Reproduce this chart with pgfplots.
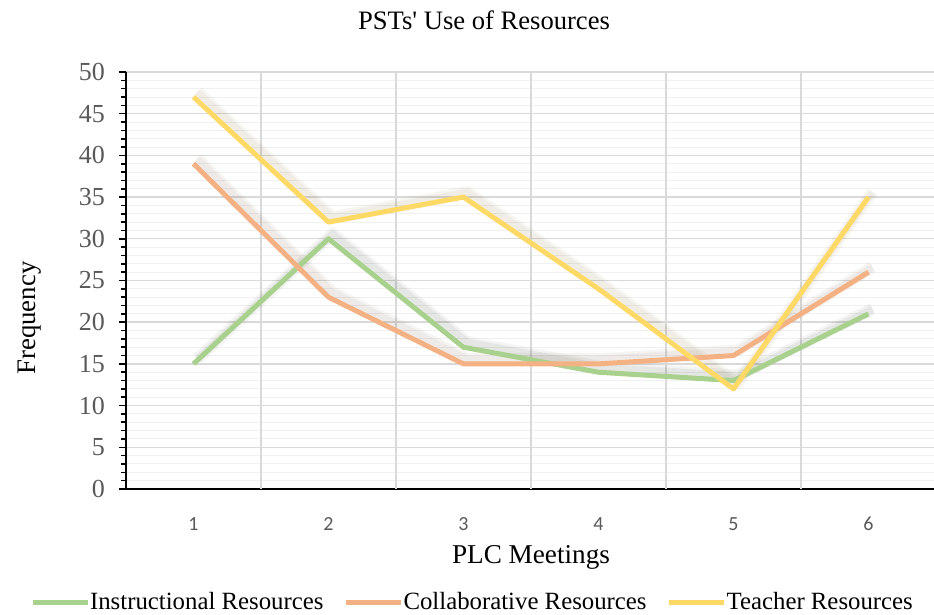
\documentclass[border=0pt]{standalone}
\usepackage{pgfplots}
\pgfplotsset{compat=1.18}
\usepackage{pgfplotstable}
\usepackage{fontspec}
\setmainfont{Liberation Serif}
\newfontfamily\carlito{Carlito}
\usetikzlibrary{calc}
\definecolor{cins}{HTML}{A9D18E}
\definecolor{ccol}{HTML}{F4B183}
\definecolor{ctea}{HTML}{FFD966}
\definecolor{tickgray}{HTML}{595959}
\pgfplotstableread{
x ins col tea
1 15 39 47
2 30 23 32
3 17 15 35
4 14 15 24
5 13 16 12
6 21 26 35
}\data
\begin{document}
\begin{tikzpicture}
\begin{axis}[
  name=ax,
  scale only axis,
  width=405pt, height=208.5pt,
  xmin=0.5, xmax=6.5,
  ymin=0, ymax=50,
  axis x line=bottom, axis y line=left,
  axis line style={-, black, line width=0.9pt},
  xtick={1,...,6},
  xtick style={draw=none},
  extra x ticks={1.5,2.5,3.5,4.5,5.5},
  extra x tick labels={},
  extra x tick style={xmajorgrids=true, tick style={draw=none}},
  ytick distance=5,
  minor y tick num=4,
  ymajorgrids, yminorgrids,
  major grid style={draw=black!15, line width=0.7pt},
  minor grid style={draw=black!6, line width=0.5pt},
  tick align=outside,
  ytick style={black, line width=0.8pt},
  major tick length=3.5pt,
  minor tick length=2.5pt,
  /pgf/number format/assume math mode=true,
  yticklabel style={font=\fontsize{13}{15}\selectfont, text=tickgray, xshift=-3.5pt},
  xticklabel style={font=\carlito\fontsize{10}{12}\selectfont, text=tickgray, anchor=base, yshift=-17pt},
  title={PSTs\textquotesingle{} Use of Resources},
  title style={font=\fontsize{13.3}{16}\selectfont, at={(0.442,1)}, anchor=base, yshift=15pt},
  xlabel={PLC Meetings},
  xlabel style={font=\fontsize{13.6}{16}\selectfont, at={(0.5,0)}, anchor=base, yshift=-37pt},
  ylabel={Frequency},
  ylabel style={font=\fontsize{13.4}{16}\selectfont, at={(0,0.41)}, anchor=center, yshift=48pt},
  legend columns=-1,
  legend style={draw=none, fill=none, at={(0.4265,-0.273)}, anchor=center,
    font=\fontsize{12.4}{15}\selectfont,
    /tikz/every even column/.append style={column sep=10pt},
    nodes={inner sep=0pt}},
  legend image code/.code={\draw[#1, line width=2.5pt] (0pt,0pt) -- (27.5pt,0pt);},
  every axis plot/.append style={line join=round},
]
% shadows
\addplot[forget plot, draw=ctea!50!black, opacity=0.06, line width=6pt, transform canvas={xshift=2pt,yshift=2.5pt}] table[x=x,y=tea]{\data};
\addplot[forget plot, draw=ctea!50!black, opacity=0.07, line width=3.5pt, transform canvas={xshift=2pt,yshift=2.5pt}] table[x=x,y=tea]{\data};
\addplot[forget plot, draw=ccol!50!black, opacity=0.06, line width=6pt, transform canvas={xshift=2pt,yshift=2.5pt}] table[x=x,y=col]{\data};
\addplot[forget plot, draw=ccol!50!black, opacity=0.07, line width=3.5pt, transform canvas={xshift=2pt,yshift=2.5pt}] table[x=x,y=col]{\data};
\addplot[forget plot, draw=cins!30!black, opacity=0.06, line width=6pt, transform canvas={xshift=2pt,yshift=2.5pt}] table[x=x,y=ins]{\data};
\addplot[forget plot, draw=cins!30!black, opacity=0.07, line width=3.5pt, transform canvas={xshift=2pt,yshift=2.5pt}] table[x=x,y=ins]{\data};
% lines
\addplot[draw=cins, line width=2.5pt] table[x=x,y=ins]{\data};
\addlegendentry{Instructional Resources}
\addplot[draw=ccol, line width=2.5pt] table[x=x,y=col]{\data};
\addlegendentry{Collaborative Resources}
\addplot[draw=ctea, line width=2.5pt] table[x=x,y=tea]{\data};
\addlegendentry{Teacher Resources}
\coordinate (bl) at (rel axis cs:0,0);
\coordinate (tr) at (rel axis cs:1,1);
\end{axis}
\pgfresetboundingbox
\path ($(bl)+(-63pt,-62.5pt)$) rectangle ($(tr)+(-1pt,36pt)$);
\end{tikzpicture}
\end{document}
